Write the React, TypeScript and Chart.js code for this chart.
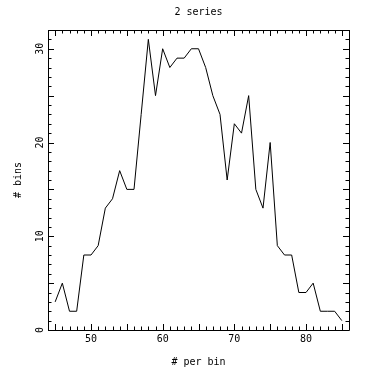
import React, { useEffect, useRef } from "react";
import { Chart, registerables } from "chart.js";

Chart.register(...registerables);

const perBin = [45, 46, 47, 48, 49, 50, 51, 52, 53, 54, 55, 56, 57, 58, 59, 60, 61, 62, 63, 64, 65, 66, 67, 68, 69, 70, 71, 72, 73, 74, 75, 76, 77, 78, 79, 80, 81, 82, 83, 84, 85];
const bins = [3, 5, 2, 2, 8, 8, 9, 13, 14, 17, 15, 15, 23, 31, 25, 30, 28, 29, 29, 30, 30, 28, 25, 23, 16, 22, 21, 25, 15, 13, 20, 9, 8, 8, 4, 4, 5, 2, 2, 2, 1];
const xRange = [44, 86];
const yRange = [0, 32];
const labelStep = 10;
const titleText = "2 series";
const xTitle = "# per bin";
const yTitle = "# bins";

const FONT = "'DejaVu Sans Mono', 'Liberation Mono', monospace";

const boxTicks = {
  id: "boxTicks",
  afterDraw(chart: any) {
    const { ctx, chartArea } = chart;
    const { left, right, top, bottom } = chartArea;
    const xs = chart.scales.x;
    const ys = chart.scales.y;
    ctx.save();
    ctx.strokeStyle = "#000";
    ctx.lineWidth = 1;
    ctx.beginPath();
    ctx.rect(Math.round(left) + 0.5, Math.round(top) + 0.5, Math.round(right - left), Math.round(bottom - top));
    ctx.stroke();
    ctx.beginPath();
    for (let v = Math.ceil(xs.min); v <= xs.max; v++) {
      const px = Math.round(xs.getPixelForValue(v)) + 0.5;
      const len = v % 5 === 0 ? 6 : 3.5;
      ctx.moveTo(px, bottom);
      ctx.lineTo(px, bottom - len);
      ctx.moveTo(px, top);
      ctx.lineTo(px, top + len);
    }
    for (let v = Math.ceil(ys.min); v <= ys.max; v++) {
      const py = Math.round(ys.getPixelForValue(v)) + 0.5;
      const len = v % 5 === 0 ? 6 : 3.5;
      ctx.moveTo(left, py);
      ctx.lineTo(left + len, py);
      ctx.moveTo(right, py);
      ctx.lineTo(right - len, py);
    }
    ctx.stroke();
    ctx.restore();
  },
};

export default function App() {
  const ref = useRef<HTMLCanvasElement>(null);
  useEffect(() => {
    if (!ref.current) return;
    const chart = new Chart(ref.current, {
      type: "line",
      data: {
        datasets: [
          {
            label: titleText,
            data: perBin.map((x, i) => ({ x, y: bins[i] })),
            borderColor: "#000",
            borderWidth: 1,
            pointRadius: 0,
            tension: 0,
            fill: false,
          },
        ],
      },
      options: {
        responsive: false,
        animation: false,
        devicePixelRatio: 1,
        layout: { padding: { left: 0, right: 23, top: 0, bottom: 0 } },
        plugins: {
          legend: { display: false },
          tooltip: { enabled: false },
          title: {
            display: true,
            text: titleText,
            fullSize: false,
            color: "#000",
            font: { family: FONT, size: 10, weight: "normal" },
            padding: { top: 6, bottom: 12 },
          },
        },
        scales: {
          x: {
            type: "linear",
            min: xRange[0],
            max: xRange[1],
            afterBuildTicks: (s: any) => {
              s.ticks = s.ticks.filter((t: any) => t.value % labelStep === 0);
            },
            afterFit: (s: any) => {
              s.height = 48;
            },
            grid: { display: false, drawTicks: false },
            border: { display: false },
            ticks: {
              stepSize: labelStep,
              color: "#000",
              padding: 3,
              maxRotation: 0,
              font: { family: FONT, size: 10 },
            },
            title: {
              display: true,
              text: xTitle,
              color: "#000",
              font: { family: FONT, size: 10 },
              padding: { top: 0, bottom: 10 },
            },
          },
          y: {
            type: "linear",
            min: yRange[0],
            max: yRange[1],
            afterBuildTicks: (s: any) => {
              s.ticks = s.ticks.filter((t: any) => t.value % labelStep === 0);
            },
            afterFit: (s: any) => {
              s.width = 48;
            },
            grid: { display: false, drawTicks: false },
            border: { display: false },
            ticks: {
              stepSize: labelStep,
              color: "#000",
              padding: 2,
              minRotation: 90,
              maxRotation: 90,
              crossAlign: "center",
              font: { family: FONT, size: 10 },
            },
            title: {
              display: true,
              text: yTitle,
              color: "#000",
              font: { family: FONT, size: 10 },
              padding: { top: 12.5, bottom: 0 },
            },
          },
        },
      } as any,
      plugins: [boxTicks],
    });
    return () => chart.destroy();
  }, []);
  return (
    <canvas
      ref={ref}
      width={372}
      height={378}
      style={{ position: "absolute", left: 0, top: 0, width: 372, height: 378, display: "block" }}
    />
  );
}
